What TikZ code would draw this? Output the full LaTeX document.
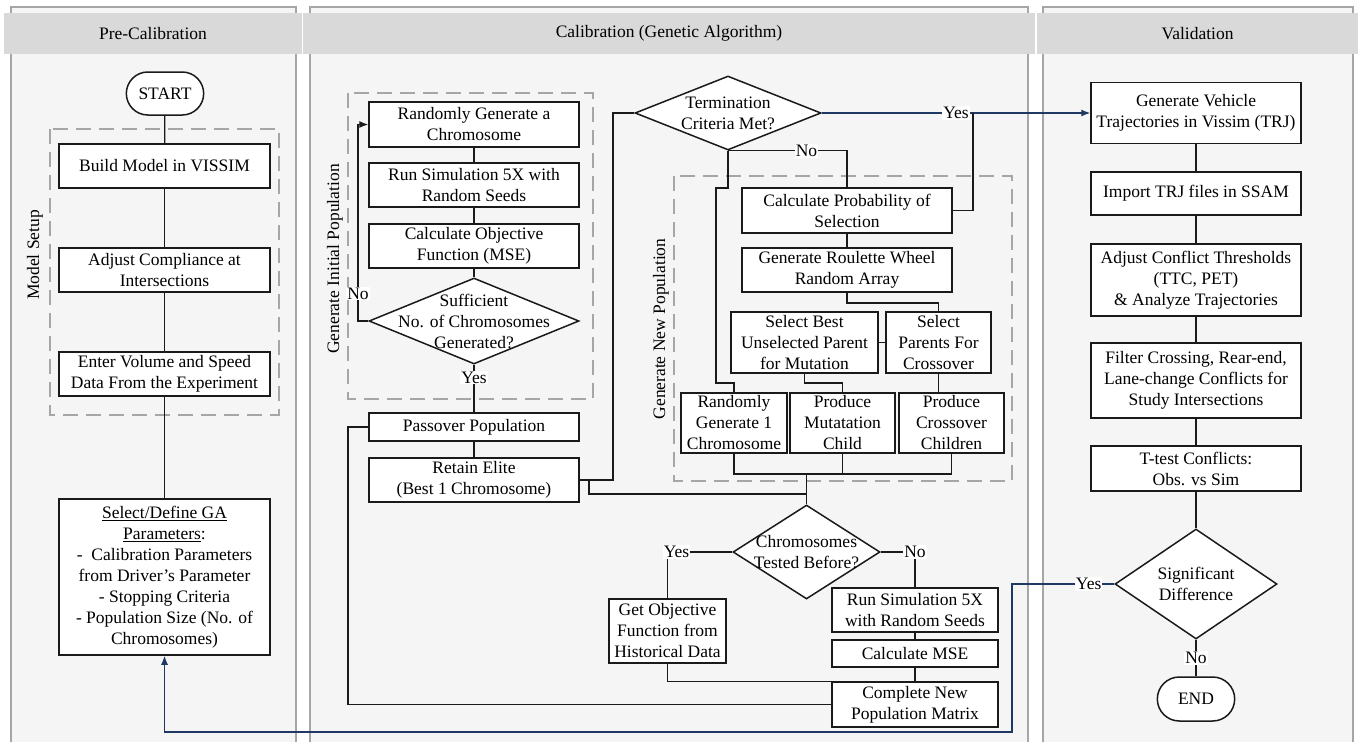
\documentclass[tikz,border=0pt]{standalone}
\usepackage{fontspec}
\setmainfont{Liberation Serif}
\usepackage{tikz}
\usetikzlibrary{shapes, arrows.meta, positioning}

\definecolor{lanefill}{HTML}{F5F5F5}
\definecolor{laneline}{HTML}{A6A6A6}
\definecolor{headfill}{HTML}{D9D9D9}
\definecolor{navy}{HTML}{203864}
\definecolor{ink}{HTML}{1A1A1A}

\begin{document}
\begin{tikzpicture}[x=1pt, y=-1pt,
    every node/.style={font=\fontsize{17.5}{21}\selectfont},
    sz/.style 2 args={minimum width=#1pt, minimum height=#2pt},
    box/.style={draw=ink, line width=1.5pt, fill=white, align=center, inner sep=0pt},
    oval/.style={rounded rectangle, draw=ink, line width=1.5pt, fill=white, sz={84}{43}},
    dia/.style={diamond, draw=ink, line width=1.5pt, fill=white, inner sep=0pt},
    dtext/.style={align=center, inner sep=0pt},
    line/.style={draw=ink, line width=1.2pt},
    bline/.style={draw=navy, line width=1.2pt},
    tip/.style={-{Latex[length=9pt, width=7pt]}},
    lbl/.style={fill=white, inner sep=1pt},
    grp/.style={draw=laneline, line width=1.2pt, dash pattern=on 15pt off 8pt}]

        \useasboundingbox (0,0) rectangle (1358,742);

        % lanes
        \foreach \l/\r in {11/296, 310/1028, 1043/1353} {
            \fill[lanefill] (\l,7) rectangle (\r,742);
            \draw[laneline, line width=1.2pt] (\l,742) -- (\l,7) -- (\r,7) -- (\r,742);
        }
        \foreach \l/\r/\t in {4/302/{Pre-Calibration}, 303/1035/{Calibration (Genetic Algorithm)}, 1037/1358/{Validation}} {
            \fill[headfill] (\l,13) rectangle (\r,54);
            \node (hd\l) at ({(\l+\r)/2},33.5) {\t};
        }

        % dashed groups
        \draw[grp] (50,129) rectangle (279,415);
        \draw[grp] (348,93) rectangle (593,399);
        \draw[grp] (674,176) rectangle (1012,481);
        \node[rotate=90] (gsetup) at (35,255) {Model Setup};
        \node[rotate=90] (ginit) at (335,259) {Generate Initial Population};
        \node[rotate=90] (gnew) at (661,329) {Generate New Population};

        % --- Pre-Calibration ---
        \node[oval] (start) at (165,93.5) {START};
        \node[box, sz={211}{44}] (build) at (164.5,166) {Build Model in VISSIM};
        \node[box, sz={211}{44}] (adjust) at (164.5,270) {Adjust Compliance at\\Intersections};
        \node[box, sz={211}{44}] (enter) at (164.5,374) {Enter Volume and Speed\\Data From the Experiment};
        \node[box, sz={211}{156}] (gapar) at (164.5,577) {\underline{Select/Define GA}\\\underline{Parameters}:\\-\ \ Calibration Parameters\\from Driver's Parameter\\- Stopping Criteria\\- Population Size (No. of\\Chromosomes)};

        % --- Calibration: initial population ---
        \node[box, sz={210}{45}] (randchr) at (474,124.5) {Randomly Generate a\\Chromosome};
        \node[box, sz={210}{44}] (runsim) at (474,185) {Run Simulation 5X with\\Random Seeds};
        \node[box, sz={210}{44}] (calcobj) at (474,246) {Calculate Objective\\Function (MSE)};
        \node[dia, sz={210}{86}] (suffq) at (474,321) {};
        \node[dtext] (sufft) at (suffq) {Sufficient\\No. of Chromosomes\\Generated?};
        \node[box, sz={210}{28}] (passover) at (474,427) {Passover Population};
        \node[box, sz={210}{44}] (elite) at (474,480) {Retain Elite\\(Best 1 Chromosome)};

        % --- Calibration: new population ---
        \node[dia, sz={186}{74}] (stopq) at (728,113) {};
        \node[dtext] (stopt) at (stopq) {Termination\\Criteria Met?};
        \node[box, sz={210}{45}] (calcprob) at (847,210.5) {Calculate Probability of\\Selection};
        \node[box, sz={210}{44}] (roulette) at (847,270) {Generate Roulette Wheel\\Random Array};
        \node[box, sz={147}{61}] (selbest) at (804.5,342.5) {Select Best\\Unselected Parent\\for Mutation};
        \node[box, sz={105}{61}] (selpar) at (938.5,342.5) {Select\\Parents For\\Crossover};
        \node[box, sz={106}{60}] (randone) at (734,423) {Randomly\\Generate 1\\Chromosome};
        \node[box, sz={105}{60}] (mutchild) at (842.5,423) {Produce\\Mutatation\\Child};
        \node[box, sz={105}{60}] (crochild) at (951.5,423) {Produce\\Crossover\\Children};
        \node[dia, sz={147}{94}] (testq) at (806.5,552) {};
        \node[dtext] (testt) at (testq) {Chromosomes\\Tested Before?};
        \node[box, sz={117}{64}] (getobj) at (667.5,631) {Get Objective\\Function from\\Historical Data};
        \node[box, sz={166}{44}] (runsim2) at (915,610) {Run Simulation 5X\\with Random Seeds};
        \node[box, sz={166}{27}] (calcmse) at (915,653.5) {Calculate MSE};
        \node[box, sz={166}{45}] (complete) at (915,704.5) {Complete New\\Population Matrix};

        % --- Validation ---
        \node[box, sz={210}{61}] (genveh) at (1196,113) {Generate Vehicle\\Trajectories in Vissim (TRJ)};
        \node[box, sz={210}{43}] (import) at (1196,193.5) {Import TRJ files in SSAM};
        \node[box, sz={210}{72}] (thresh) at (1196,280) {Adjust Conflict Thresholds\\(TTC, PET)\\\& Analyze Trajectories};
        \node[box, sz={210}{75}] (filter) at (1196,380.5) {Filter Crossing, Rear-end,\\Lane-change Conflicts for\\Study Intersections};
        \node[box, sz={210}{45}] (ttest) at (1196,468.5) {T-test Conflicts:\\Obs. vs Sim};
        \node[dia, sz={162}{110}] (signq) at (1196,584) {};
        \node[dtext] (signt) at (signq) {Significant\\Difference};
        \node[oval, minimum height=44pt] (endn) at (1196,699) {END};

        % bend points
        \coordinate (noturn) at (358,124.5);
        \coordinate (pleft) at (348,427);
        \coordinate (eturn) at (613,113);
        \coordinate (ejoin) at (589,480);
        \coordinate (mjoin) at (806.5,494);
        \coordinate (cjoin) at (806.5,474);
        \coordinate (sa) at (728,188);
        \coordinate (sb) at (716,383);
        \coordinate (rjoin) at (938.5,303);
        \coordinate (sjoin) at (842.5,383);
        \coordinate (yjoin) at (973,113);
        \coordinate (bcorner) at (1012,732);

        % straight links
        \foreach \a/\b in {start/build, build/adjust, adjust/enter, enter/gapar,
                randchr/runsim, runsim/calcobj, calcobj/suffq, passover/elite,
                calcprob/roulette, selbest/selpar, runsim2/calcmse, calcmse/complete,
                genveh/import, import/thresh, thresh/filter, filter/ttest, ttest/signq}
            \draw[line] (\a) -- (\b);

        % initial population loop
        \draw[line, tip] (suffq.west) -| node[lbl, pos=0.57] (no1) {No} (noturn) -- (randchr.west);
        \draw[line] (suffq.south) -- node[lbl, pos=0.27] (yes1) {Yes} (passover.north);
        \draw[line] (passover.west) -- (pleft) |- (complete.west);
        \draw[line] (elite.east) -| (eturn) -- (stopq.west);
        \draw[line] (ejoin) |- (mjoin);

        % termination
        \draw[bline, tip] (stopq.east) -- node[lbl] (yes2) {Yes} (genveh.west);
        \draw[line] (calcprob.east) -| (yjoin);
        \draw[line] (stopq.south) -| node[lbl, pos=0.33] (no2) {No} (calcprob.north);
        \draw[line] (stopq.south) -- (sa) -| (sb) -| (randone.north);

        % selection and children
        \draw[line] (roulette.south) |- (rjoin) -- (selpar.north);
        \draw[line] (selbest.south) |- (sjoin) -- (mutchild.north);
        \draw[line] (selpar.south) -- (selpar.south |- crochild.north);
        \draw[line] (randone.south) |- (cjoin) -| (crochild.south);
        \draw[line] (mutchild.south) -- (mutchild.south |- cjoin);
        \draw[line] (cjoin) -- (testq.north);

        % tested before?
        \draw[line] (testq.west) -| node[lbl, pos=0.43] (yes3) {Yes} (getobj.north);
        \draw[line] (testq.east) -| node[lbl, pos=0.5] (no3) {No} (runsim2.north);
        \draw[line] (getobj.south) |- (complete.north);

        % validation result
        \draw[line] (signq.south) -- node[lbl] (no4) {No} (endn.north);
        \draw[bline, tip] (signq.west) -| node[lbl, pos=0.125] (yes4) {Yes} (bcorner) -| (gapar.south);

\end{tikzpicture}
\end{document}
